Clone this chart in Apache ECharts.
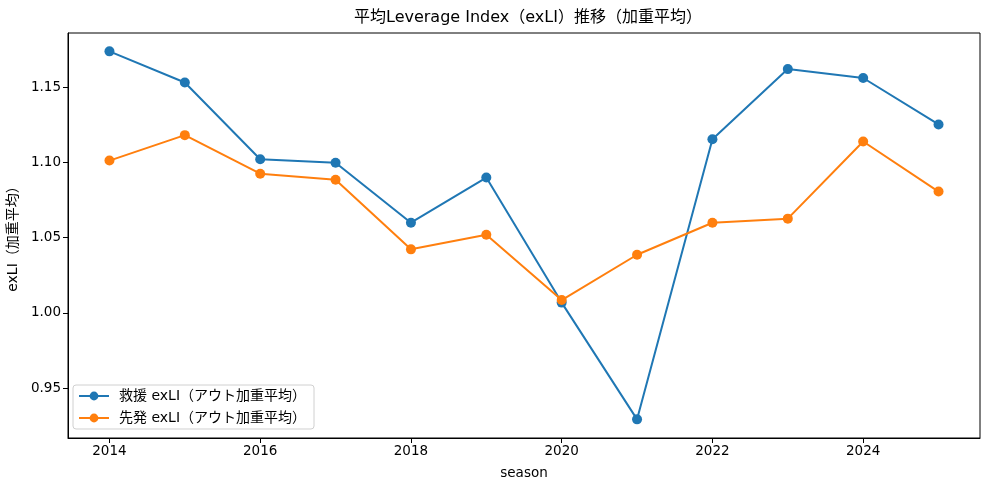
<!DOCTYPE html>
<html>
<head>
<meta charset="utf-8">
<script src="https://cdn.jsdelivr.net/npm/echarts@6/dist/echarts.min.js"></script>
<style>
html,body{margin:0;padding:0;background:#fff;}
#chart{width:999px;height:483px;}
</style>
</head>
<body>
<div id="chart"></div>
<script>
const seasons = [2014, 2015, 2016, 2017, 2018, 2019, 2020, 2021, 2022, 2023, 2024, 2025];
const reliefExLI = [1.1738, 1.1531, 1.1021, 1.0997, 1.0599, 1.0899, 1.0068, 0.9292, 1.1154, 1.1620, 1.1561, 1.1252];
const starterExLI = [1.1012, 1.1181, 1.0925, 1.0885, 1.0422, 1.0519, 1.0085, 1.0386, 1.0599, 1.0626, 1.1139, 1.0806];
const xTicks = [2014, 2016, 2018, 2020, 2022, 2024];
const yTicks = [0.95, 1.00, 1.05, 1.10, 1.15];
const seriesNames = ['救援 exLI（アウト加重平均）', '先発 exLI（アウト加重平均）'];
const titleText = '平均Leverage Index（exLI）推移（加重平均）';

const FONT = '"DejaVu Sans", "Noto Sans CJK JP", sans-serif';
const chart = echarts.init(document.getElementById('chart'), null, {renderer: 'canvas'});
const pair = (xs, ys) => xs.map((x, i) => [x, ys[i]]);

chart.setOption({
  animation: false,
  backgroundColor: '#fff',
  textStyle: {fontFamily: FONT},
  title: {
    text: titleText, left: 349, top: 5,
    textStyle: {fontFamily: FONT, fontSize: 16, fontWeight: 'normal', color: '#000'}
  },
  grid: {left: 68, right: 19, top: 33, bottom: 45, containLabel: false, outerBoundsMode: 'none',
         show: true, borderColor: '#000', borderWidth: 1, backgroundColor: 'transparent'},
  legend: {
    left: 73, top: 385, orient: 'vertical',
    backgroundColor: '#fff', borderColor: '#d0d0d0', borderWidth: 1, borderRadius: 3,
    padding: [4, 8, 4, 5], itemGap: 8, itemWidth: 30, itemHeight: 11,
    textStyle: {fontFamily: FONT, fontSize: 14, color: '#000', padding: [0, 0, 0, 5]},
    data: seriesNames
  },
  xAxis: {
    type: 'value', min: 2013.45, max: 2025.55,
    name: 'season', nameLocation: 'middle', nameGap: 29,
    nameTextStyle: {fontFamily: FONT, fontSize: 13.5, color: '#000'},
    splitLine: {show: false},
    axisLine: {show: true, onZero: false, lineStyle: {color: '#000', width: 1}},
    axisTick: {show: true, length: 5, lineStyle: {color: '#000'}, customValues: xTicks},
    axisLabel: {color: '#000', fontSize: 13.5, fontFamily: FONT, margin: 7, customValues: xTicks, formatter: v => String(v)}
  },
  yAxis: {
    type: 'value', min: 0.9168, max: 1.186,
    name: 'exLI（加重平均）', nameLocation: 'middle', nameGap: 47, nameRotate: 90,
    nameTextStyle: {fontFamily: FONT, fontSize: 14, color: '#000'},
    splitLine: {show: false},
    axisLine: {show: true, onZero: false, lineStyle: {color: '#000', width: 1}},
    axisTick: {show: true, length: 5, lineStyle: {color: '#000'}, customValues: yTicks},
    axisLabel: {color: '#000', fontSize: 13.5, fontFamily: FONT, margin: 7, customValues: yTicks, formatter: v => v.toFixed(2)}
  },
  series: [
    {
      name: seriesNames[0], type: 'line', data: pair(seasons, reliefExLI),
      symbol: 'circle', symbolSize: 10, color: '#1f77b4',
      lineStyle: {width: 2, color: '#1f77b4'}, itemStyle: {color: '#1f77b4'}, z: 2
    },
    {
      name: seriesNames[1], type: 'line', data: pair(seasons, starterExLI),
      symbol: 'circle', symbolSize: 10, color: '#ff7f0e',
      lineStyle: {width: 2, color: '#ff7f0e'}, itemStyle: {color: '#ff7f0e'}, z: 3
    }
  ]
});
</script>
</body>
</html>
